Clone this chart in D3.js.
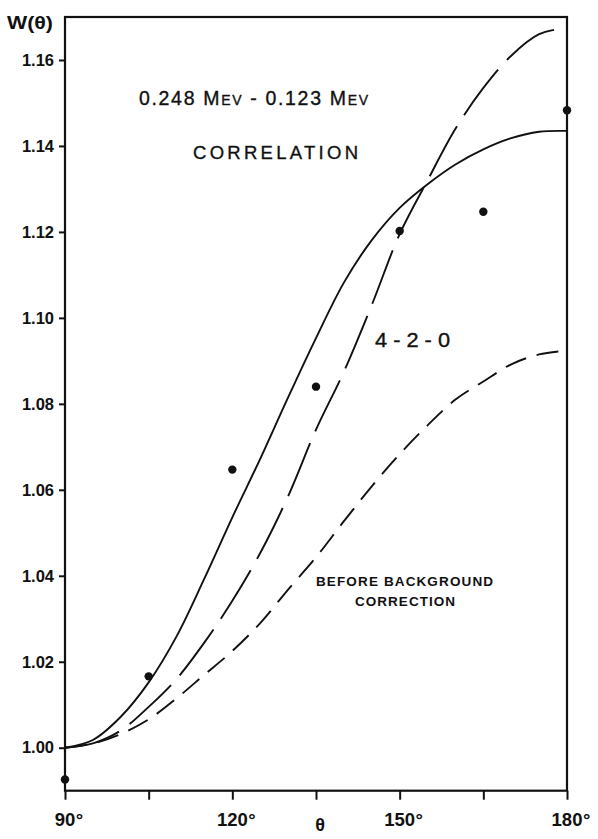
<!DOCTYPE html>
<html>
<head>
<meta charset="utf-8">
<script src="https://cdn.jsdelivr.net/npm/d3@7"></script>
<style>
  html, body { margin: 0; padding: 0; background: #fff; }
  svg { display: block; }
  text { font-family: "Liberation Sans", Arial, sans-serif; fill: #111; }
</style>
</head>
<body>
<svg id="chart" width="598" height="839"></svg>
<script>
// Angles (degrees) at which the curves are sampled
const theta = [90, 95, 100, 105, 110, 115, 120, 125, 130, 135, 140, 145, 150, 155, 160, 165, 170, 175, 180];

// Theoretical correlation after background correction (solid)
const fitSolid = [1.0000, 1.0018, 1.0072, 1.0152, 1.0259, 1.0394, 1.0536, 1.0672, 1.0815, 1.0953, 1.1082, 1.1181, 1.1256, 1.1311, 1.1357, 1.1392, 1.1418, 1.1433, 1.1435];

// 4-2-0 cascade prediction (long dashes)
const cascade420 = [1.0000, 1.0010, 1.0040, 1.0095, 1.0160, 1.0245, 1.0342, 1.0453, 1.0585, 1.0740, 1.0875, 1.1030, 1.1195, 1.1320, 1.1440, 1.1535, 1.1610, 1.1660, 1.1675];

// Curve before background correction (short dashes)
const beforeBg = [1.0000, 1.0010, 1.0032, 1.0066, 1.0115, 1.0170, 1.0225, 1.0290, 1.0368, 1.0443, 1.0527, 1.0608, 1.0683, 1.0750, 1.0810, 1.0852, 1.0892, 1.0915, 1.0924];

// Measured points
const measAngle = [90, 105, 120, 135, 150, 165, 180];
const measW = [0.9926, 1.0166, 1.0647, 1.0840, 1.1202, 1.1247, 1.1483];

// Axis ticks
const yTicks = [1.00, 1.02, 1.04, 1.06, 1.08, 1.10, 1.12, 1.14, 1.16];
const xTicks = [90, 105, 120, 135, 150, 165, 180];
const xLabelled = [90, 120, 150, 180];

const svg = d3.select("#chart");
const plotL = 65, plotR = 567, plotT = 17, plotB = 790.7;

const x = d3.scaleLinear().domain([90, 180]).range([plotL, plotR]);
const y = d3.scaleLinear().domain([0.99, 1.17]).range([plotB, plotT]);

const ink = "#111";

// Frame
svg.append("rect")
  .attr("x", plotL).attr("y", plotT)
  .attr("width", plotR - plotL).attr("height", plotB - plotT)
  .attr("fill", "none").attr("stroke", ink).attr("stroke-width", 2.2);

// Left axis
const yAxis = svg.append("g")
  .attr("transform", `translate(${plotL},0)`)
  .call(d3.axisLeft(y).tickValues(yTicks).tickSize(6).tickPadding(5)
        .tickFormat(d3.format(".2f")));
yAxis.select(".domain").remove();
yAxis.selectAll(".tick line").attr("stroke", ink).attr("stroke-width", 2);
yAxis.selectAll(".tick text")
  .attr("font-size", 16.5).attr("font-weight", "bold")
  .style("font-family", "'Liberation Sans', Arial, sans-serif").attr("fill", ink);

// Bottom axis
const xAxis = svg.append("g")
  .attr("transform", `translate(0,${plotB})`)
  .call(d3.axisBottom(x).tickValues(xTicks).tickSize(9).tickFormat(""));
xAxis.select(".domain").remove();
xAxis.selectAll(".tick line").attr("stroke", ink).attr("stroke-width", 2);

// Angle labels: number centred on the tick, degree sign appended
const xl = svg.append("g");
xLabelled.forEach(a => {
  const t = xl.append("text")
    .attr("x", x(a)).attr("y", 826)
    .attr("text-anchor", "middle")
    .attr("font-size", 18.5).attr("font-weight", "bold")
    .text(a);
  const w = t.node().getComputedTextLength();
  xl.append("text")
    .attr("x", x(a) + w / 2 + 0.5).attr("y", 826)
    .attr("font-size", 18.5).attr("font-weight", "bold")
    .text("°");
});

// Axis titles
svg.append("text").attr("x", 320).attr("y", 831).attr("text-anchor", "middle")
  .attr("font-size", 18).attr("font-weight", "bold").text("θ");
svg.append("text").attr("x", 7).attr("y", 29)
  .attr("font-size", 18.5).attr("font-weight", "bold")
  .attr("textLength", 46).attr("lengthAdjust", "spacingAndGlyphs")
  .text("W(θ)");

// Curves
const line = d3.line().curve(d3.curveCatmullRom.alpha(0.5));
function drawCurve(vals, dash) {
  svg.append("path")
    .datum(theta.map((t, i) => [x(t), y(vals[i])]))
    .attr("d", line)
    .attr("fill", "none").attr("stroke", ink).attr("stroke-width", 1.9)
    .attr("stroke-dasharray", dash);
}
drawCurve(fitSolid, null);
drawCurve(cascade420, "57,13");
drawCurve(beforeBg, "22,11");

// Measured points
svg.append("g").selectAll("circle")
  .data(measAngle.map((a, i) => [a, measW[i]]))
  .join("circle")
  .attr("cx", d => x(d[0])).attr("cy", d => y(d[1]))
  .attr("r", 4.2).attr("fill", ink);

// Annotations
const t1 = svg.append("text").attr("x", 139).attr("y", 105)
  .attr("font-size", 19.5).attr("stroke", ink).attr("stroke-width", 0.35)
  .attr("textLength", 229).attr("lengthAdjust", "spacing");
t1.append("tspan").text("0.248 M");
t1.append("tspan").attr("font-size", 14).text("EV");
t1.append("tspan").text(" - 0.123 M");
t1.append("tspan").attr("font-size", 14).text("EV");

svg.append("text").attr("x", 193).attr("y", 159)
  .attr("font-size", 18.5).attr("stroke", ink).attr("stroke-width", 0.35)
  .attr("textLength", 165).attr("lengthAdjust", "spacing")
  .text("CORRELATION");

svg.append("text").attr("x", 375).attr("y", 347)
  .attr("font-size", 20).attr("stroke", ink).attr("stroke-width", 0.35)
  .attr("textLength", 75).attr("lengthAdjust", "spacingAndGlyphs")
  .text("4 - 2 - 0");

svg.append("text").attr("x", 316).attr("y", 585.5)
  .attr("font-size", 13.5).attr("font-weight", "bold")
  .attr("textLength", 177).attr("lengthAdjust", "spacing")
  .text("BEFORE BACKGROUND");
svg.append("text").attr("x", 355).attr("y", 605.5)
  .attr("font-size", 13.5).attr("font-weight", "bold")
  .attr("textLength", 100).attr("lengthAdjust", "spacing")
  .text("CORRECTION");
</script>
</body>
</html>
